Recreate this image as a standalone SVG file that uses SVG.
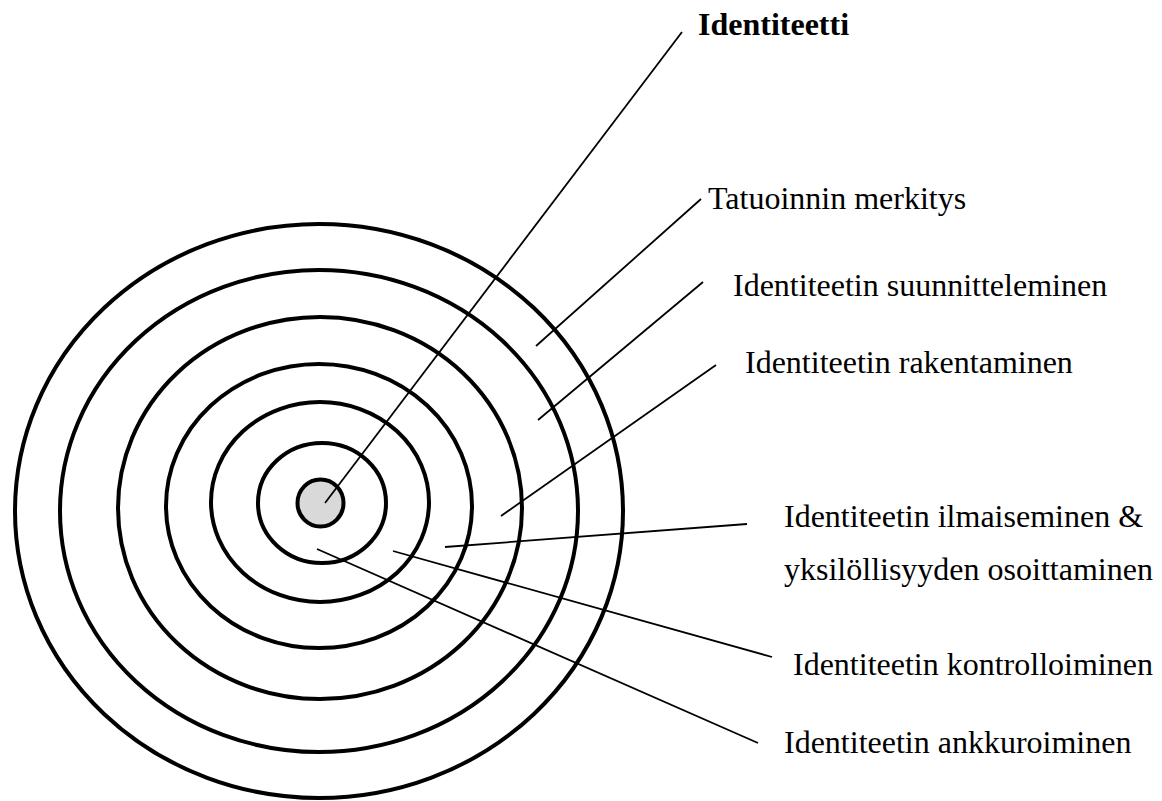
<svg xmlns="http://www.w3.org/2000/svg" width="1162" height="801" viewBox="0 0 1162 801">
<style>
.ring{fill:none;stroke:#000;stroke-width:4}
.core{fill:#d9d9d9;stroke:#000;stroke-width:4}
.ln{stroke:#000;stroke-width:1.8;fill:none}
.lbl{font-family:"Liberation Serif","Times New Roman",serif;font-size:32px;fill:#000}
.bold{font-weight:bold}
</style>
<rect width="1162" height="801" fill="#fff"/>
<g id="rings">
<ellipse class="ring" cx="319" cy="511" rx="304" ry="287"/>
<ellipse class="ring" cx="319" cy="511" rx="259" ry="241"/>
<ellipse class="ring" cx="320" cy="508" rx="202" ry="191"/>
<ellipse class="ring" cx="319" cy="506" rx="153" ry="142"/>
<ellipse class="ring" cx="320" cy="502" rx="109" ry="100"/>
<ellipse class="ring" cx="322" cy="503" rx="64" ry="60"/>
</g>
<g id="core">
<ellipse class="core" cx="320.5" cy="503" rx="23" ry="23.5"/>
</g>
<g id="connectors">
<line class="ln" x1="325" y1="503" x2="682" y2="32"/>
<line class="ln" x1="536" y1="346" x2="701" y2="199"/>
<line class="ln" x1="538" y1="420" x2="703" y2="282"/>
<line class="ln" x1="501" y1="516" x2="716" y2="365"/>
<line class="ln" x1="445" y1="547" x2="747" y2="524"/>
<line class="ln" x1="393" y1="551" x2="772" y2="657"/>
<line class="ln" x1="317" y1="549" x2="758" y2="743"/>
</g>
<g id="label-identiteetti"><text class="lbl bold" x="698" y="35">Identiteetti</text></g>
<g id="label-tatuoinnin"><text class="lbl" x="708" y="209">Tatuoinnin merkitys</text></g>
<g id="label-suunnitteleminen"><text class="lbl" x="733" y="296">Identiteetin suunnitteleminen</text></g>
<g id="label-rakentaminen"><text class="lbl" x="745" y="373">Identiteetin rakentaminen</text></g>
<g id="label-ilmaiseminen"><text class="lbl" x="784" y="527">Identiteetin ilmaiseminen &amp;</text><text class="lbl" x="784" y="580">yksilöllisyyden osoittaminen</text></g>
<g id="label-kontrolloiminen"><text class="lbl" x="793" y="675">Identiteetin kontrolloiminen</text></g>
<g id="label-ankkuroiminen"><text class="lbl" x="784" y="753">Identiteetin ankkuroiminen</text></g>
</svg>
